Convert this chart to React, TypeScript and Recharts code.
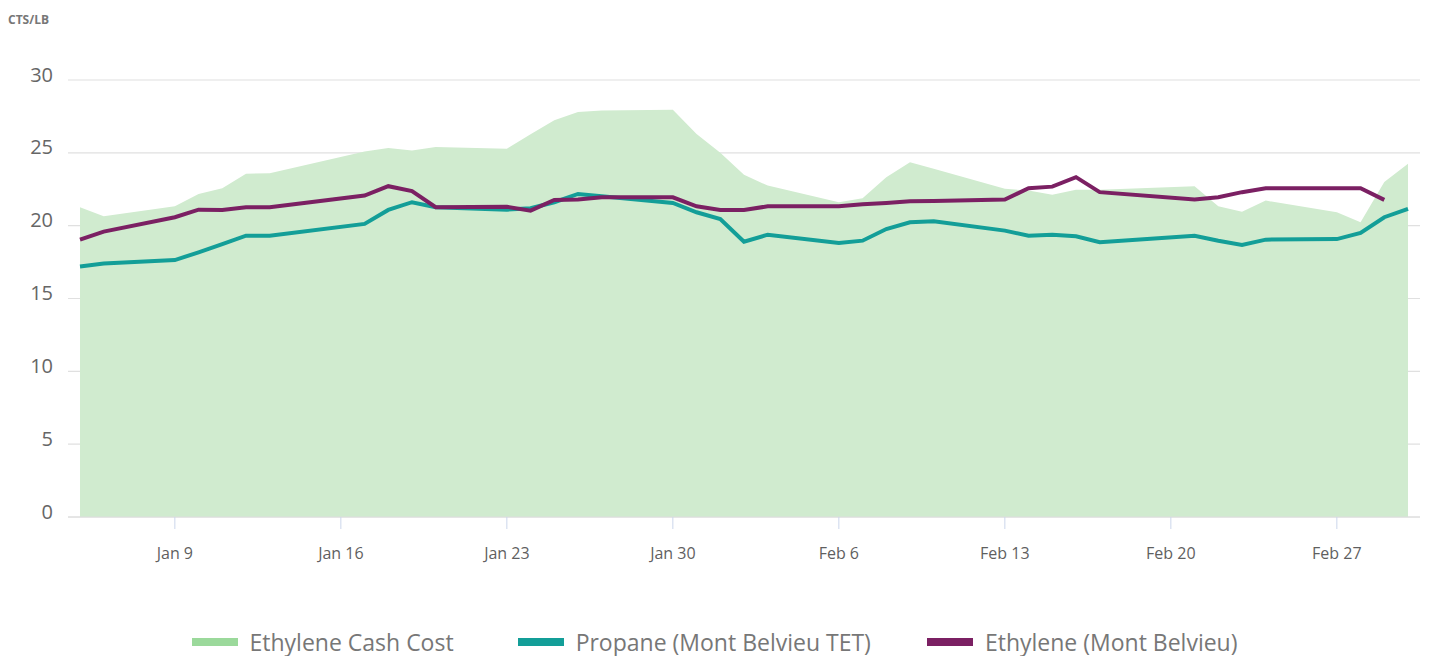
import { ComposedChart, Area, Line, XAxis, YAxis, CartesianGrid } from "recharts";

// weekday quotes, Jan 5 - Mar 2 2023 (holidays missing)
const dates = [
  "2023-01-05", "2023-01-06", "2023-01-09", "2023-01-10", "2023-01-11", "2023-01-12", "2023-01-13",
  "2023-01-17", "2023-01-18", "2023-01-19", "2023-01-20", "2023-01-23", "2023-01-24", "2023-01-25",
  "2023-01-26", "2023-01-27", "2023-01-30", "2023-01-31", "2023-02-01", "2023-02-02", "2023-02-03",
  "2023-02-06", "2023-02-07", "2023-02-08", "2023-02-09", "2023-02-10", "2023-02-13", "2023-02-14",
  "2023-02-15", "2023-02-16", "2023-02-17", "2023-02-21", "2023-02-22", "2023-02-23", "2023-02-24",
  "2023-02-27", "2023-02-28", "2023-03-01", "2023-03-02",
];

const cashCost = [
  21.27, 20.65, 21.33, 22.18, 22.57, 23.56, 23.6,
  25.09, 25.33, 25.16, 25.4, 25.28, 26.27, 27.23,
  27.8, 27.91, 27.96, 26.3, 25.0, 23.49, 22.75,
  21.61, 21.89, 23.33, 24.36, 23.9, 22.53, 22.41,
  22.13, 22.46, 22.46, 22.71, 21.33, 20.96, 21.72,
  20.92, 20.23, 22.99, 24.25,
];

const propane = [
  17.2, 17.41, 17.64, 18.17, 18.74, 19.31, 19.31,
  20.12, 21.08, 21.61, 21.27, 21.1, 21.2, 21.61,
  22.18, 22.02, 21.56, 20.92, 20.46, 18.9, 19.38,
  18.81, 18.97, 19.77, 20.23, 20.3, 19.66, 19.31,
  19.38, 19.27, 18.86, 19.31, 18.97, 18.67, 19.04,
  19.08, 19.5, 20.58, 21.15,
];

const ethylene = [
  19.04, 19.59, 20.58, 21.1, 21.08, 21.27, 21.27,
  22.07, 22.71, 22.37, 21.27, 21.3, 21.03, 21.77,
  21.8, 21.95, 21.95, 21.33, 21.08, 21.08, 21.33,
  21.33, 21.47, 21.56, 21.68, 21.7, 21.79, 22.57,
  22.68, 23.33, 22.3, 21.79, 21.95, 22.3, 22.57,
  22.57, 22.57, 21.77, null,
];

const tickDates = ["2023-01-09", "2023-01-16", "2023-01-23", "2023-01-30", "2023-02-06", "2023-02-13", "2023-02-20", "2023-02-27"];
const yTicks = [0, 5, 10, 15, 20, 25, 30];

const seriesNames = ["Ethylene Cash Cost", "Propane (Mont Belvieu TET)", "Ethylene (Mont Belvieu)"];
const colors = { cash: "#d0ebcf", cashLegend: "#9bd99b", propane: "#139e98", ethylene: "#7b2063" };

const FONT = "'Open Sans', sans-serif";
const ORIGIN = Date.UTC(2023, 0, 5);
const DAY = 86400000;

function dayOf(iso: string) {
  const [y, m, d] = iso.split("-").map(Number);
  return (Date.UTC(y, m - 1, d) - ORIGIN) / DAY;
}

function dayLabel(day: number) {
  return new Date(ORIGIN + day * DAY).toLocaleDateString("en-US", { month: "short", day: "numeric", timeZone: "UTC" });
}

const data = dates.map((d, i) => ({
  day: dayOf(d),
  cash: cashCost[i],
  propane: propane[i],
  ethylene: ethylene[i],
}));

function YTick({ x, y, payload }: any) {
  return (
    <text x={x} y={y - 6} textAnchor="end" dominantBaseline="central" fill="#666" fontSize={20} fontFamily={FONT}>
      {payload.value}
    </text>
  );
}

function XTick({ x, y, payload }: any) {
  return (
    <text x={x} y={y} textAnchor="middle" dominantBaseline="central" fill="#5f5f5f" fontSize={16} fontFamily={FONT}>
      {dayLabel(payload.value)}
    </text>
  );
}

function LegendItem({ color, label, gap }: { color: string; label: string; gap: number }) {
  return (
    <div style={{ display: "flex", alignItems: "center", marginRight: gap }}>
      <div style={{ width: 46, height: 8, background: color, marginRight: 12 }} />
      <span style={{ fontSize: 23, color: "#777", fontFamily: FONT }}>{label}</span>
    </div>
  );
}

export default function App() {
  return (
    <div style={{ position: "absolute", left: 0, top: 0, width: 1429, height: 656, background: "#fff" }}>
      <div style={{ position: "absolute", left: 8, top: 11, fontSize: 12, fontWeight: 700, color: "#777", fontFamily: FONT }}>
        CTS/LB
      </div>
      <ComposedChart width={1429} height={600} data={data} margin={{ top: 80, right: 9, bottom: 0, left: 0 }}>
        <CartesianGrid vertical={false} stroke="#e0e0e0" strokeWidth={1.2} />
        <XAxis
          dataKey="day"
          type="number"
          domain={["dataMin", "dataMax"]}
          ticks={tickDates.map(dayOf)}
          padding={{ left: 12, right: 12 }}
          height={83}
          tickSize={12}
          tickMargin={24}
          tickLine={{ stroke: "#ccd6eb" }}
          axisLine={{ stroke: "#dcdcdc" }}
          tick={<XTick />}
        />
        <YAxis
          domain={[0, 30]}
          ticks={yTicks}
          width={68}
          tickLine={false}
          axisLine={false}
          tickMargin={9}
          tick={<YTick />}
        />
        <Area dataKey="cash" type="linear" fill={colors.cash} fillOpacity={1} stroke="none" isAnimationActive={false} />
        <Line dataKey="propane" type="linear" stroke={colors.propane} strokeWidth={4} dot={false} isAnimationActive={false} />
        <Line dataKey="ethylene" type="linear" stroke={colors.ethylene} strokeWidth={4} dot={false} isAnimationActive={false} />
      </ComposedChart>
      <div style={{ position: "absolute", left: 0, top: 626, width: 1429, display: "flex", justifyContent: "center" }}>
        <LegendItem color={colors.cashLegend} label={seriesNames[0]} gap={64} />
        <LegendItem color={colors.propane} label={seriesNames[1]} gap={56} />
        <LegendItem color={colors.ethylene} label={seriesNames[2]} gap={0} />
      </div>
    </div>
  );
}
